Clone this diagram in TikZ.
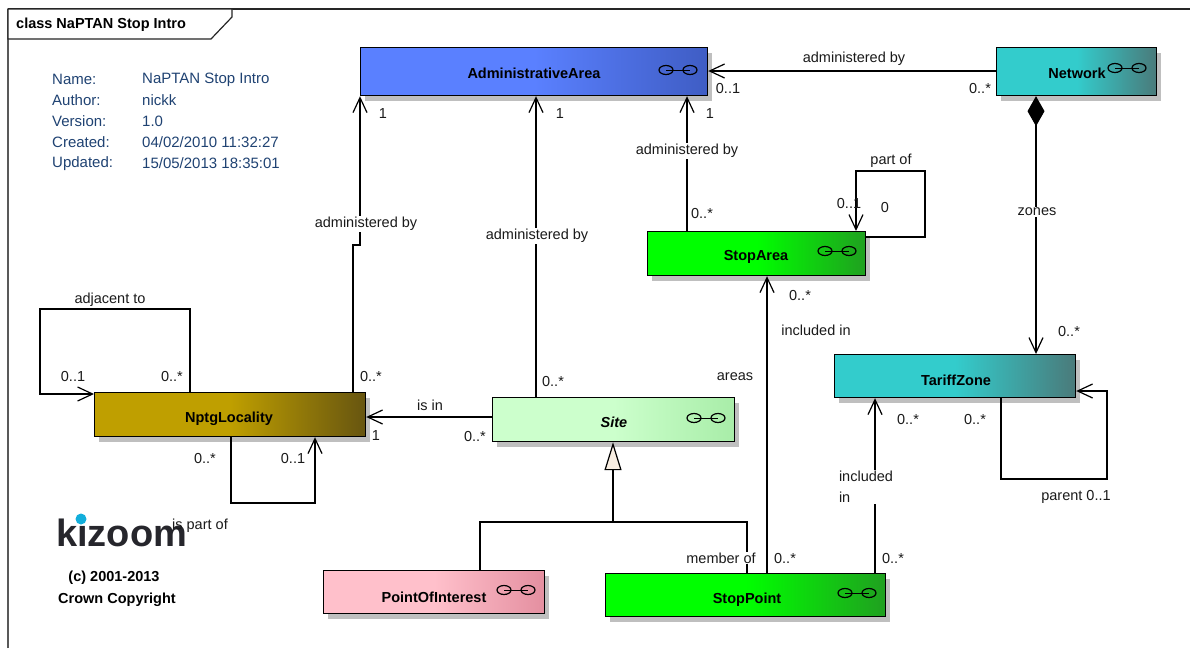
\documentclass[tikz,border=0pt]{standalone}
\usepackage{fontspec}
\setmainfont{Liberation Sans}
\usetikzlibrary{arrows.meta,shadows}
\definecolor{navytext}{HTML}{1F4272}
\definecolor{labelgray}{HTML}{1A1A1A}
\definecolor{kizoomgray}{HTML}{26262C}
\definecolor{kizoomblue}{HTML}{12AEDB}
\definecolor{adminleft}{HTML}{5A80FF}
\definecolor{adminright}{HTML}{3F5DC4}
\definecolor{tealleft}{HTML}{33CCCC}
\definecolor{tealright}{HTML}{4A7A7A}
\definecolor{greenleft}{HTML}{00FF00}
\definecolor{greenright}{HTML}{20A020}
\definecolor{goldleft}{HTML}{BF9F00}
\definecolor{goldright}{HTML}{675510}
\definecolor{siteleft}{HTML}{CCFFCC}
\definecolor{siteright}{HTML}{A8EDA8}
\definecolor{pinkleft}{HTML}{FFC0CB}
\definecolor{pinkright}{HTML}{E48FA0}
\definecolor{triangfill}{HTML}{F8EEE2}
\tikzset{
  classbox/.style n args={6}{draw=black, line width=1.2pt, rectangle, anchor=north west,
    minimum width=#3, minimum height=#4, inner sep=0pt,
    left color=#5, right color=#6, middle color=#5,
    drop shadow={shadow xshift=4.5pt, shadow yshift=-5pt, fill=black!25, opacity=1},
    font=\bfseries\fontsize{14.5}{16}\selectfont},
  assoc/.style={draw=black, line width=1.2pt, -{Straight Barb[length=15pt,width=14pt,line width=1.2pt]}},
  plainline/.style={draw=black, line width=1.2pt},
  mult/.style={font=\fontsize{14.5}{16}\selectfont, text=labelgray, inner sep=0pt},
  connlabel/.style={mult, fill=white, inner sep=1pt},
  metatext/.style={font=\fontsize{15}{17}\selectfont, text=navytext, anchor=west, inner sep=0pt},
  copytext/.style={font=\bfseries\fontsize{14.5}{17}\selectfont, inner sep=0pt},
}
\newcommand{\linkicon}[2]{
  \draw[line width=1pt] (#1-12,#2) -- (#1+12,#2);
  \draw[line width=1.2pt] (#1-12,#2) ellipse [x radius=7, y radius=4.5];
  \draw[line width=1.2pt] (#1+12,#2) ellipse [x radius=7, y radius=4.5];
}
\begin{document}
\begin{tikzpicture}[x=1pt, y=-1pt]
\useasboundingbox (0,0) rectangle (1190,648);
% frame
\draw [line width=1.6pt, draw=black!65] (8,648) -- (8,9);
\draw [line width=1.2pt, draw=black!85] (8,9) -- (1190,9);
\draw [line width=1.2pt, draw=black!85, fill=white] (8,39) -- (211,39) -- (232,17) -- (232,9) -- (8,9) -- cycle;
\node[anchor=west, inner sep=0pt, font=\bfseries\fontsize{14.5}{16}\selectfont] (titleText) at (16,25) {class NaPTAN Stop Intro};
% notes
\node[metatext] (nameKey) at (52,79.5) {Name:};
\node[metatext] (nameVal) at (142,79.5) {NaPTAN Stop Intro};
\node[metatext] (authorKey) at (52,100.5) {Author:};
\node[metatext] (authorVal) at (142,100.5) {nickk};
\node[metatext] (versionKey) at (52,121.5) {Version:};
\node[metatext] (versionVal) at (142,121.5) {1.0};
\node[metatext] (createdKey) at (52,142.5) {Created:};
\node[metatext] (createdVal) at (142,142.5) {04/02/2010 11:32:27};
\node[metatext] (updatedKey) at (52,163.5) {Updated:};
\node[metatext] (updatedVal) at (142,163.5) {15/05/2013 18:35:01};
% logo
\node[anchor=west, inner sep=0pt, text=kizoomgray, font=\bfseries\fontsize{38}{40}\selectfont] (kizoomLogo) at (56,533) {kizoom};
\fill[kizoomblue] (81,519) circle (5.5);
\node[copytext] (copyLine) at (114,578) {(c) 2001-2013};
\node[copytext] (crownLine) at (117,600) {Crown Copyright};
% classes
\node[classbox={360}{47}{347}{48}{adminleft}{adminright}] (adminArea) at (360,47) {};
\node[classbox={996}{47}{160}{48}{tealleft}{tealright}] (network) at (996,47) {};
\node[classbox={647}{231}{218}{44}{greenleft}{greenright}] (stopArea) at (647,231) {};
\node[classbox={834}{354}{241}{43}{tealleft}{tealright}] (tariffZone) at (834,354) {};
\node[classbox={94}{392}{271}{44}{goldleft}{goldright}] (nptgLocality) at (94,392) {};
\node[classbox={492}{397}{242}{44}{siteleft}{siteright}] (site) at (492,397) {};
\node[classbox={323}{570}{221}{43}{pinkleft}{pinkright}] (pointOfInterest) at (323,570) {};
\node[classbox={605}{573}{280}{43}{greenleft}{greenright}] (stopPoint) at (605,573) {};
% class names
\node[copytext] (adminName) at (534,73) {AdministrativeArea};
\node[copytext] (networkName) at (1077,73) {Network};
\node[copytext] (stopAreaName) at (756,257) {StopArea};
\node[copytext] (tariffName) at (956,380) {TariffZone};
\node[copytext] (nptgName) at (229,419) {NptgLocality};
\node[copytext, font=\bfseries\itshape\fontsize{14.5}{16}\selectfont] (siteName) at (614,422) {Site};
\node[copytext] (poiName) at (434,597) {PointOfInterest};
\node[copytext] (stopPointName) at (747,600) {StopPoint};
% link icons
\linkicon{678}{70}
\linkicon{1127}{68}
\linkicon{837}{251}
\linkicon{706}{418}
\linkicon{516}{590}
\linkicon{857}{593}
% connectors
\draw[assoc] (nptgLocality.north -| 353,0) -- (353,245) -- (360,245) -- (adminArea.south -| 360,0);
\draw[assoc] (site.north -| 536,0) -- (adminArea.south -| 536,0);
\draw[assoc] (stopArea.north -| 687,0) -- (adminArea.south -| 687,0);
\draw[assoc] (network.west |- 0,71) -- (adminArea.east |- 0,71);
\draw[assoc] (stopArea.east |- 0,237) -- (925,237) -- (925,171) -- (856,171) -- (stopArea.north -| 856,0);
\draw[assoc] (stopPoint.north -| 767,0) -- (stopArea.south -| 767,0);
\draw[plainline, {Diamond[length=30pt,width=17pt,fill=black]}-{Straight Barb[length=15pt,width=14pt,line width=1.2pt]}] (network.south -| 1036,0) -- (tariffZone.north -| 1036,0);
\draw[assoc] (stopPoint.north -| 875,0) -- (tariffZone.south -| 875,0);
\draw[assoc] (tariffZone.south -| 1001,0) -- (1001,479) -- (1107,479) -- (1107,391) -- (tariffZone.east |- 0,391);
\draw[assoc] (site.west |- 0,417) -- (nptgLocality.east |- 0,417);
\draw[assoc] (nptgLocality.north -| 190,0) -- (190,309) -- (40,309) -- (40,394) -- (nptgLocality.west |- 0,394);
\draw[assoc] (nptgLocality.south -| 231,0) -- (231,503) -- (315,503) -- (nptgLocality.south -| 315,0);
% generalization
\draw[plainline] (pointOfInterest.north -| 480,0) -- (480,522) -- (747,522) -- (stopPoint.north -| 747,0);
\draw[plainline, -{Triangle[length=28pt,width=17pt,fill=triangfill,line width=1.2pt]}] (613,522) -- (site.south -| 613,0);
% labels on lines
\node[connlabel] (adminByOne) at (366,224) {administered by};
\node[connlabel] (adminByTwo) at (537,236) {administered by};
\node[connlabel] (adminByThree) at (687,151) {administered by};
\node[connlabel] (adminByFour) at (854,59) {administered by};
\node[connlabel] (partOf) at (891,161) {part of};
\node[connlabel] (zones) at (1037,212) {zones};
\node[connlabel] (memberOf) at (721,558) {member of};
\node[connlabel] (includedOne) at (816,330) {included in};
\node[connlabel, align=left, font=\fontsize{14.5}{21}\selectfont] (includedTwo) at (866,487) {included\\in};
\node[mult] (areasLabel) at (735,377) {areas};
\node[mult] (parentLabel) at (1076,497) {parent 0..1};
\node[connlabel] (isIn) at (430,405) {is in};
\node[mult] (adjacentTo) at (110,300) {adjacent to};
\node[mult] (isPartOf) at (200,526) {is part of};
% multiplicities
\node[mult] (multA) at (383,114) {1};
\node[mult] (multB) at (560,114) {1};
\node[mult] (multC) at (710,114) {1};
\node[mult] (multD) at (728,89) {0..1};
\node[mult] (multE) at (980,89) {0..*};
\node[mult] (multF) at (702,214) {0..*};
\node[mult] (multG) at (849,204) {0..1};
\node[mult] (multH) at (885,208) {0};
\node[mult] (multI) at (800,296) {0..*};
\node[mult] (multJ) at (1069,332) {0..*};
\node[mult] (multK) at (73,377) {0..1};
\node[mult] (multL) at (172,377) {0..*};
\node[mult] (multM) at (371,377) {0..*};
\node[mult] (multN) at (553,382) {0..*};
\node[mult] (multO) at (376,436) {1};
\node[mult] (multP) at (475,436) {0..*};
\node[mult] (multQ) at (205,458) {0..*};
\node[mult] (multR) at (293,458) {0..1};
\node[mult] (multS) at (908,420) {0..*};
\node[mult] (multT) at (975,420) {0..*};
\node[mult] (multU) at (785,558) {0..*};
\node[mult] (multV) at (893,558) {0..*};
\end{tikzpicture}
\end{document}
